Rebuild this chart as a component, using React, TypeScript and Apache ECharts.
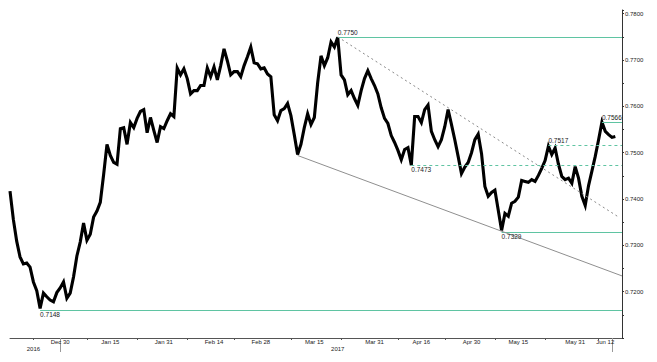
import React, { useEffect, useRef } from "react";
import * as echarts from "echarts";

// Daily calendar slots from 2016-12-15 to 2017-06-16 (last two slots empty)
const START_Y = 2016, START_M = 11, START_D = 15, SLOT_COUNT = 184;

// AUD/USD price, one value per calendar day (Dec 15 2016 .. Jun 14 2017)
const prices = [
  0.7417, 0.7356, 0.7309, 0.7275, 0.7260, 0.7262, 0.7253, 0.7221, 0.7202, 0.7164,
  0.7197, 0.7189, 0.7182, 0.7178, 0.7198, 0.7208, 0.7221, 0.7186, 0.7197, 0.7232,
  0.7277, 0.7307, 0.7348, 0.7311, 0.7324, 0.7361, 0.7374, 0.7393, 0.7453, 0.7518,
  0.7494, 0.7479, 0.7475, 0.7552, 0.7554, 0.7518, 0.7565, 0.7554, 0.7574, 0.7589,
  0.7593, 0.7543, 0.7576, 0.7548, 0.7522, 0.7556, 0.7552, 0.7569, 0.7584, 0.7578,
  0.7683, 0.7668, 0.7681, 0.7660, 0.7627, 0.7634, 0.7634, 0.7645, 0.7645, 0.7683,
  0.7664, 0.7685, 0.7657, 0.7688, 0.7724, 0.7698, 0.7668, 0.7675, 0.7675, 0.7664,
  0.7688, 0.7707, 0.7728, 0.7694, 0.7692, 0.7681, 0.7683, 0.7670, 0.7664, 0.7582,
  0.7569, 0.7591, 0.7595, 0.7606, 0.7580, 0.7539, 0.7496, 0.7518, 0.7554, 0.7584,
  0.7561, 0.7576, 0.7651, 0.7709, 0.7688, 0.7705, 0.7739, 0.7728, 0.7749, 0.7668,
  0.7657, 0.7625, 0.7634, 0.7617, 0.7602, 0.7634, 0.7660, 0.7677, 0.7660, 0.7645,
  0.7627, 0.7597, 0.7574, 0.7563, 0.7537, 0.7522, 0.7505, 0.7485, 0.7507, 0.7511,
  0.7473, 0.7578, 0.7578, 0.7565, 0.7593, 0.7603, 0.7546, 0.7528, 0.7513, 0.7528,
  0.7556, 0.7593, 0.7561, 0.7528, 0.7492, 0.7455, 0.7469, 0.7479, 0.7500, 0.7528,
  0.7540, 0.7498, 0.7427, 0.7406, 0.7414, 0.7419, 0.7376, 0.7332, 0.7369, 0.7363,
  0.7391, 0.7395, 0.7404, 0.7440, 0.7438, 0.7436, 0.7442, 0.7438, 0.7451, 0.7466,
  0.7483, 0.7514, 0.7496, 0.7510, 0.7475, 0.7449, 0.7442, 0.7445, 0.7434, 0.7470,
  0.7445, 0.7406, 0.7386, 0.7429, 0.7460, 0.7492, 0.7528, 0.7566, 0.7546, 0.7539,
  0.7533, 0.7535,
];

// x-axis labels (text and the slot where each is drawn)
const xLabelTexts = ["Dec 30", "Jan 15", "Jan 31", "Feb 14", "Feb 28", "Mar 15", "Mar 31", "Apr 16", "Apr 30", "May 15", "May 31", "Jun 12"];
const xLabelSlots = ["2016-12-30", "2017-01-14", "2017-01-30", "2017-02-14", "2017-02-28", "2017-03-16", "2017-04-03", "2017-04-17", "2017-05-02", "2017-05-16", "2017-06-02", "2017-06-11"];
// period boundaries carrying tick marks
const xTickSlots = ["2016-12-22", "2016-12-30", "2017-01-07", "2017-01-22", "2017-02-06", "2017-02-20", "2017-03-09", "2017-03-24", "2017-04-10", "2017-04-24", "2017-05-09", "2017-05-24", "2017-06-09"];
// year row
const yearTexts = ["2016", "2017"];
const yearSlots = ["2016-12-22", "2017-03-23"];
const yearDividerSlots = ["2016-12-30", "2017-06-13"];

// horizontal levels
const levelTexts = ["0.7750", "0.7148", "0.7329", "0.7473", "0.7517", "0.7566"];
const levelValues = [0.775, 0.716, 0.7329, 0.7473, 0.7517, 0.7566];
const levelStarts = ["2017-03-23", "2016-12-24", "2017-05-11", "2017-04-14", "2017-05-25", "2017-06-10"];
const levelDashed = [false, false, false, true, true, false];
const levelAbove = [true, false, false, false, true, true];

// trend lines: [startSlot, startValue, endSlot, endValue]
const resistanceLine = ["2017-03-23", 0.775, "2017-06-15", 0.7361];
const supportLine = ["2017-03-11", 0.7494, "2017-06-16", 0.7234];

const lastPrice = 0.7535;

const Y_MIN = 0.71;
const Y_MAX = 0.7808;
const Y_STEP = 0.01;

function buildSlots(): string[] {
  const out: string[] = [];
  const d = new Date(Date.UTC(START_Y, START_M, START_D));
  for (let i = 0; i < SLOT_COUNT; i++) {
    out.push(d.toISOString().slice(0, 10));
    d.setUTCDate(d.getUTCDate() + 1);
  }
  return out;
}

const FONT = "Liberation Sans";

export default function App() {
  const ref = useRef<HTMLDivElement>(null);

  useEffect(() => {
    if (!ref.current) return;
    const chart = echarts.init(ref.current, undefined, { renderer: "svg" });
    const slots = buildSlots();
    const labelMap: Record<string, string> = {};
    xLabelSlots.forEach((s, i) => (labelMap[s] = xLabelTexts[i]));
    const tickSet = new Set(xTickSlots);
    const yearMap: Record<string, string> = {};
    yearSlots.forEach((s, i) => (yearMap[s] = yearTexts[i]));
    const dividerSet = new Set(yearDividerSlots);

    const teal = "#5fc4a2";
    const levelItems = levelTexts.map((t, i) => [
      {
        coord: [levelStarts[i], levelValues[i]],
        lineStyle: { color: teal, width: 1, type: levelDashed[i] ? [3, 3] : "solid", opacity: 1 },
        label: {
          show: true,
          formatter: t,
          position: levelAbove[i] ? "insideStartTop" : "insideStartBottom",
          distance: [0, 1],
          color: "#1a1a1a",
          fontSize: 6.5,
          fontFamily: FONT,
        },
      },
      { coord: [slots[SLOT_COUNT - 1], levelValues[i]] },
    ]);

    const trend = (l: any[], style: any) => [
      { coord: [l[0], l[1]], lineStyle: style, label: { show: false } },
      { coord: [l[2], l[3]] },
    ];

    chart.setOption({
      animation: false,
      grid: { left: 10, right: 35, top: 10, bottom: 24 },
      xAxis: [
        {
          type: "category",
          data: slots,
          boundaryGap: false,
          axisLine: { lineStyle: { color: "#555", width: 1 } },
          axisTick: {
            interval: (_i: number, v: string) => tickSet.has(v),
            length: 2,
            lineStyle: { color: "#555" },
          },
          axisLabel: {
            interval: (_i: number, v: string) => v in labelMap,
            formatter: (v: string) => labelMap[v] || "",
            fontSize: 6,
            fontFamily: FONT,
            color: "#222",
            margin: 1,
          },
          splitLine: { show: false },
        },
        {
          type: "category",
          data: slots,
          position: "bottom",
          boundaryGap: false,
          axisLine: { show: false },
          axisTick: {
            show: true,
            interval: (_i: number, v: string) => dividerSet.has(v),
            length: 14,
            lineStyle: { color: "#999" },
          },
          axisLabel: {
            interval: (_i: number, v: string) => v in yearMap,
            formatter: (v: string) => yearMap[v] || "",
            fontSize: 6,
            fontFamily: FONT,
            color: "#222",
            margin: 8,
          },
          splitLine: { show: false },
        },
      ],
      yAxis: {
        type: "value",
        position: "right",
        min: Y_MIN,
        max: Y_MAX,
        interval: Y_STEP,
        axisLine: { show: true, lineStyle: { color: "#333", width: 1 } },
        axisTick: { show: true, length: 2, lineStyle: { color: "#333" } },
        minorTick: { show: true, splitNumber: 2, length: 2, lineStyle: { color: "#333" } },
        axisLabel: {
          formatter: (v: number) => v.toFixed(4),
          fontSize: 6,
          fontFamily: FONT,
          color: "#222",
          margin: 3,
          showMinLabel: false,
          showMaxLabel: false,
        },
        splitLine: { show: false },
      },
      series: [
        {
          type: "line",
          data: prices,
          showSymbol: false,
          symbol: "none",
          lineStyle: { color: "#000", width: 3.1, join: "miter" },
          itemStyle: { color: "#000" },
          z: 3,
          markLine: {
            silent: true,
            symbol: ["none", "none"],
            animation: false,
            data: [
              ...levelItems,
              trend(resistanceLine, { color: "#8a8a8a", width: 1, type: [2, 3] }),
              trend(supportLine, { color: "#8f8f8f", width: 1, type: "solid" }),
              [
                {
                  coord: [slots[0], lastPrice],
                  lineStyle: { opacity: 0 },
                  label: {
                    show: true,
                    position: "end",
                    formatter: lastPrice.toFixed(4),
                    backgroundColor: "#000",
                    color: "#fff",
                    fontSize: 7.5,
                    fontWeight: "bold",
                    fontFamily: FONT,
                    padding: [1, 2, 1, 2],
                    distance: 2,
                  },
                },
                { coord: [slots[SLOT_COUNT - 1], lastPrice] },
              ],
            ],
          },
        },
      ],
    });
    return () => chart.dispose();
  }, []);

  return (
    <div
      ref={ref}
      style={{ position: "fixed", left: 0, top: 0, width: 657, height: 362, background: "#fff" }}
    />
  );
}
